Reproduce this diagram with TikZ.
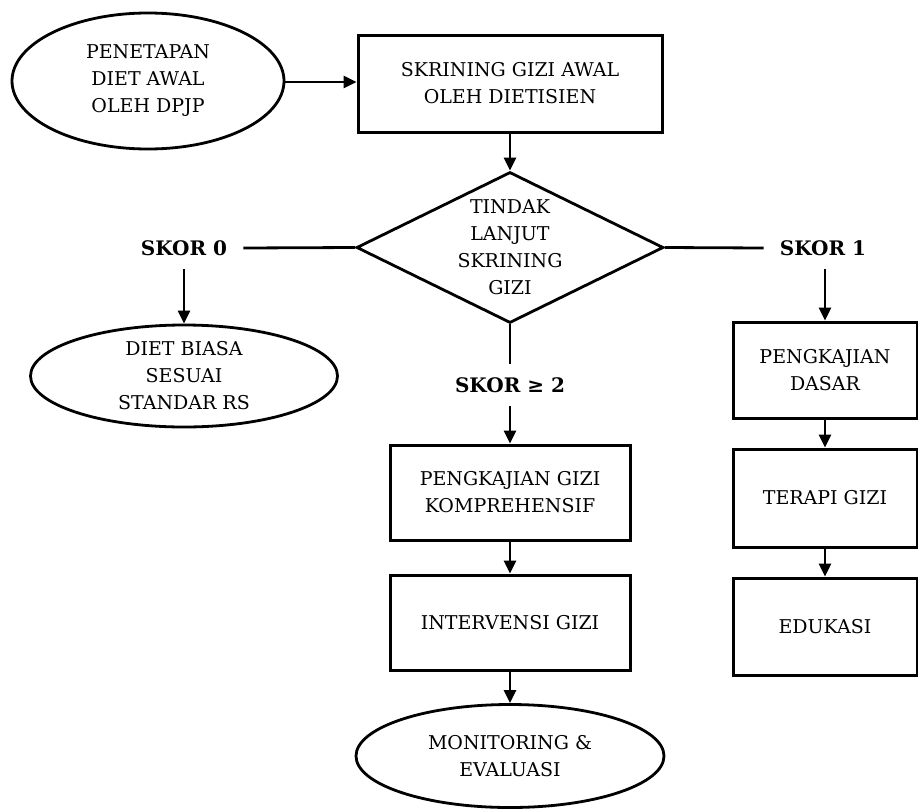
\documentclass[tikz,border=0pt]{standalone}
\usepackage{fontspec}
\setmainfont{DejaVu Serif}
\usetikzlibrary{shapes.geometric,arrows.meta}

\begin{document}
\begin{tikzpicture}[x=1pt,y=-1pt,
  every node/.style={font=\fontsize{19}{27}\selectfont, align=center},
  stepbox/.style={draw, line width=3pt, rectangle, inner sep=0pt},
  termbox/.style={draw, line width=2.8pt, ellipse, inner sep=0pt},
  decbox/.style={draw, line width=2.8pt, diamond, inner sep=0pt},
  score/.style={font=\bfseries\fontsize{20}{26}\selectfont, inner xsep=16pt, inner ysep=13pt},
  flow/.style={line width=2.8pt, -{Triangle[length=13pt,width=12pt]}},
  plain/.style={line width=2.8pt}
]
\useasboundingbox (0,0) rectangle (918,809);

% start and first screening
\node[termbox, minimum width=272pt, minimum height=136pt] (start) at (148,81)
  {PENETAPAN\\DIET AWAL\\OLEH DPJP};
\node[stepbox, minimum width=304pt, minimum height=97pt] (screen) at (510,83.5)
  {SKRINING GIZI AWAL\\OLEH DIETISIEN};

% decision
\node[decbox, minimum width=307pt, minimum height=151pt,
  label={[align=center, font=\fontsize{19}{27}\selectfont]center:TINDAK\\LANJUT\\SKRINING\\GIZI}] (dec) at (510,247.5) {};

% score labels
\node[score] (s0) at (184,248) {SKOR 0};
\node[score] (s1) at (823,248) {SKOR 1};
\node[score] (s2) at (510,385) {SKOR ≥ 2};

% score 0 branch
\node[termbox, minimum width=307pt, minimum height=102pt] (std) at (184,376)
  {DIET BIASA\\SESUAI\\STANDAR RS};

% score >= 2 branch
\node[stepbox, minimum width=240pt, minimum height=95pt] (pgk) at (510,492.5)
  {PENGKAJIAN GIZI\\KOMPREHENSIF};
\node[stepbox, minimum width=240pt, minimum height=95pt] (int) at (510,622.5)
  {INTERVENSI GIZI};
\node[termbox, minimum width=308pt, minimum height=103pt] (mon) at (510,756)
  {MONITORING \&\\EVALUASI};

% score 1 branch
\node[stepbox, minimum width=184pt, minimum height=96pt] (pd) at (825,370)
  {PENGKAJIAN\\DASAR};
\node[stepbox, minimum width=184pt, minimum height=98pt] (tg) at (825,498)
  {TERAPI GIZI};
\node[stepbox, minimum width=184pt, minimum height=97pt] (ed) at (825,626.5)
  {EDUKASI};

% connectors
\draw[flow] (start.east |- 0,82) -- (screen.west |- 0,82);
\draw[flow] (screen.south) -- (dec.north);
\draw[plain] (s0.east) -- (dec.west);
\draw[plain] (dec.east) -- (s1.west);
\draw[plain] (dec.south) -- (s2.north);
\draw[flow] (s0.south) -- (std.north);
\draw[flow] (s2.south) -- (pgk.north);
\draw[flow] (pgk.south) -- (int.north);
\draw[flow] (int.south) -- (mon.north);
\draw[flow] (s1.south -| pd.north) -- (pd.north);
\draw[flow] (pd.south) -- (tg.north);
\draw[flow] (tg.south) -- (ed.north);
\end{tikzpicture}
\end{document}
